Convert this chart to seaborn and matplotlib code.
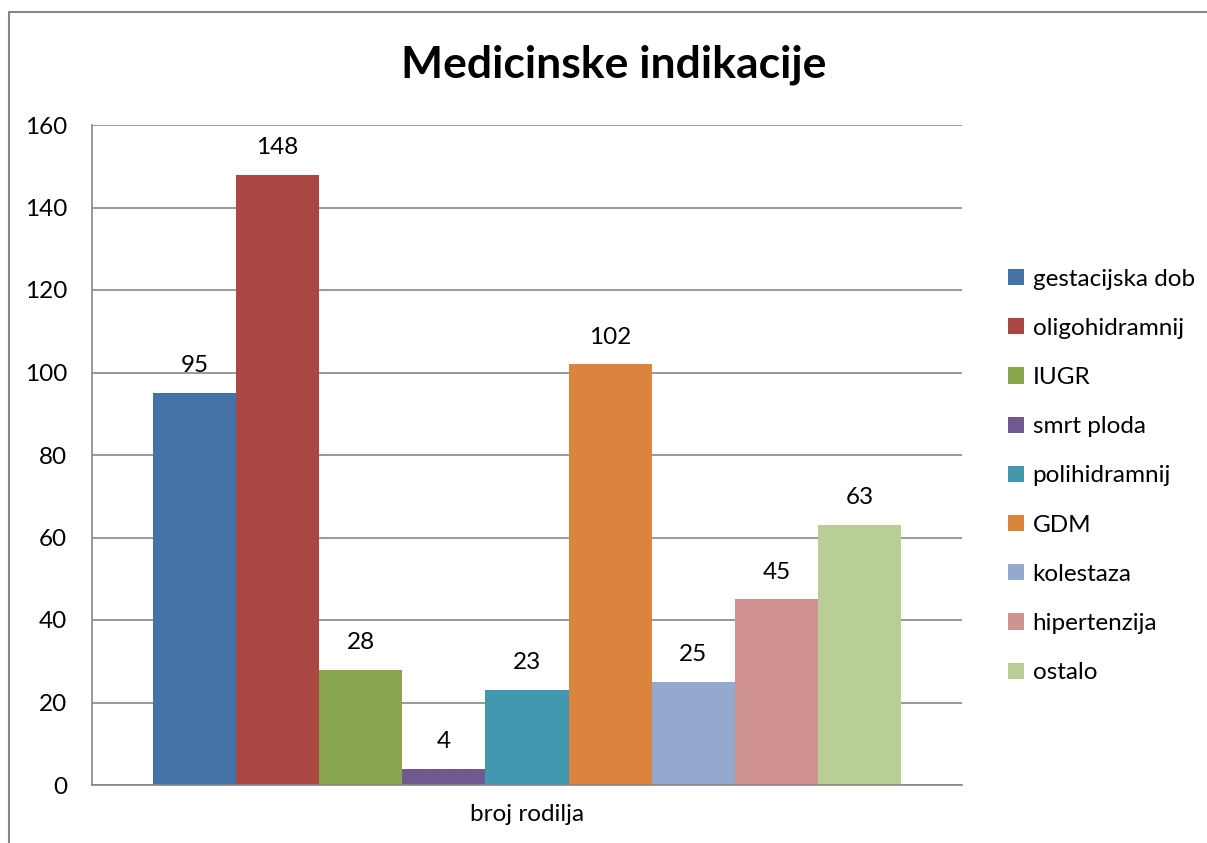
import matplotlib
matplotlib.use('Agg')
import matplotlib.pyplot as plt
import matplotlib.patches as mpatches
import pandas as pd
import seaborn as sns


# Data
category = 'broj rodilja'
indications = ['gestacijska dob', 'oligohidramnij', 'IUGR', 'smrt ploda',
               'polihidramnij', 'GDM', 'kolestaza', 'hipertenzija', 'ostalo']
counts = [95, 148, 28, 4, 23, 102, 25, 45, 63]
colors = ['#4572A7', '#AA4643', '#89A54E', '#71588F', '#4198AF',
          '#DB843D', '#93A9CF', '#D19392', '#B9CD96']

df = pd.DataFrame({'kategorija': [category] * len(indications),
                   'indikacija': indications,
                   'broj': counts})

sns.set_style('white')
plt.rcParams['font.family'] = ['Lato', 'DejaVu Sans']
plt.rcParams['text.color'] = 'black'
plt.rcParams['xtick.color'] = 'black'
plt.rcParams['ytick.color'] = 'black'

fig = plt.figure(figsize=(12.07, 8.43), dpi=100)
ax = fig.add_axes([92 / 1207, 1 - 785 / 843, 870 / 1207, 660 / 843])

sns.barplot(data=df, x='kategorija', y='broj', hue='indikacija',
            hue_order=indications, palette=colors, width=0.86,
            saturation=1, linewidth=0, ax=ax, legend=True)

for cont in ax.containers:
    ax.bar_label(cont, padding=12, fontsize=17.5)

ax.set_ylim(0, 160)
ax.set_yticks(range(0, 161, 20))
ax.yaxis.grid(True, color='#868686', linewidth=1.2)
ax.set_axisbelow(True)
ax.tick_params(axis='both', labelsize=17.5, length=0, pad=14)
ax.tick_params(axis='y', pad=18)
ax.set_xlabel('')
ax.set_ylabel('')
for side in ['top', 'right']:
    ax.spines[side].set_visible(False)
for side in ['left', 'bottom']:
    ax.spines[side].set_color('#868686')
    ax.spines[side].set_linewidth(1.2)

fig.text(614 / 1207, 1 - 65 / 843, 'Medicinske indikacije', ha='center',
         va='center', fontsize=32, fontweight='bold')

handles, labels = ax.get_legend_handles_labels()
ax.legend(handles, labels, loc='upper left', bbox_to_anchor=(1.042, 0.797),
          frameon=False, fontsize=17.5, handlelength=0.65, handleheight=0.65,
          handletextpad=0.35, labelspacing=1.16, borderaxespad=0)

# chart area border
fig.patches.append(mpatches.Rectangle((9 / 1207, -0.1), 1.2, 1 - 12 / 843 + 0.1,
                                      transform=fig.transFigure, fill=False,
                                      edgecolor='#868686', linewidth=1.5))

fig.savefig('out.png', dpi=100)
